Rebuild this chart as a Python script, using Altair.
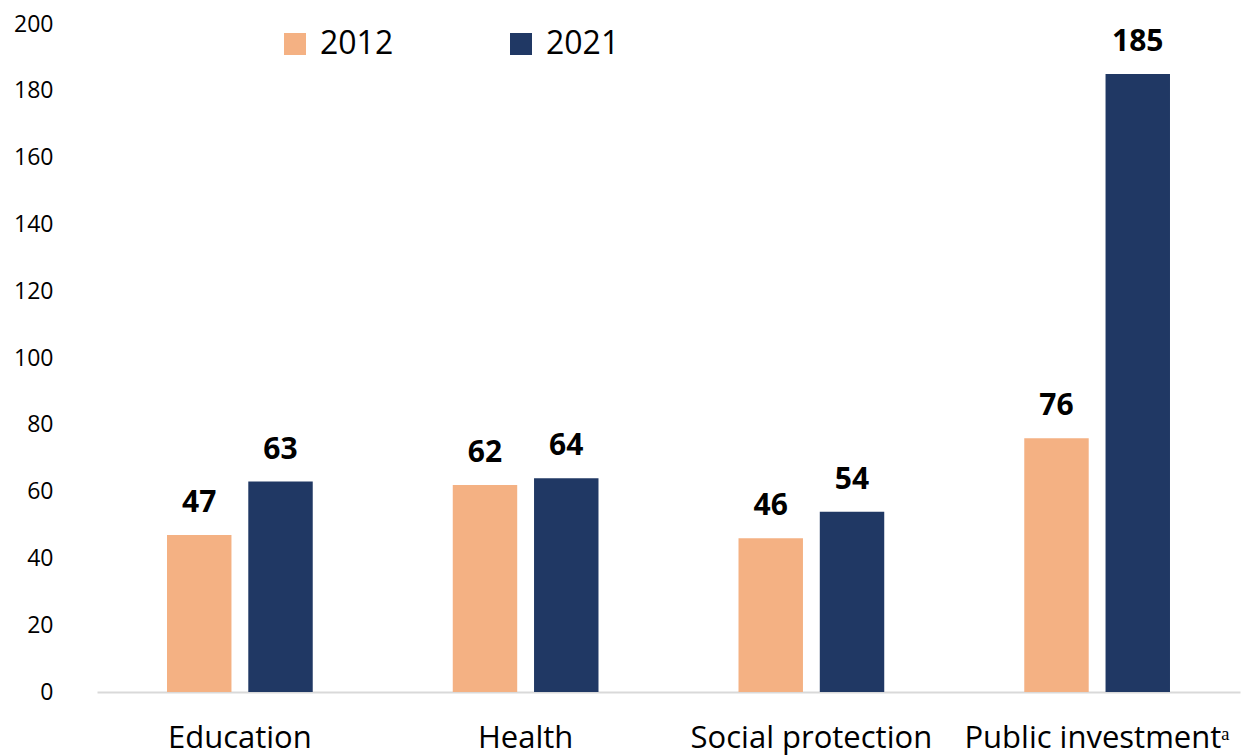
import altair as alt
import pandas as pd

categories = ["Education", "Health", "Social protection", "Public investment\u1d43"]
years = ["2012", "2021"]
values_2012 = [47, 62, 46, 76]
values_2021 = [63, 64, 54, 185]
colors = ["#F4B183", "#203864"]

rows = []
for c, a, b in zip(categories, values_2012, values_2021):
    rows.append({"category": c, "year": "2012", "value": a})
    rows.append({"category": c, "year": "2021", "value": b})
df = pd.DataFrame(rows)

FONT = "Open Sans"

x = alt.X("category:N", sort=categories, title=None,
          scale=alt.Scale(paddingInner=0.49, paddingOuter=0.245),
          axis=alt.Axis(labelAngle=0, labelFontSize=31, labelFont=FONT, labelColor="#000000",
                        labelPadding=31, labelLimit=0, ticks=False, domainColor="#D9D9D9",
                        domainWidth=2, grid=False))
xo = alt.XOffset("year:N", sort=years, scale=alt.Scale(paddingInner=0.207, paddingOuter=0))
y = alt.Y("value:Q", title=None,
          scale=alt.Scale(domain=[0, 200], nice=False),
          axis=alt.Axis(values=list(range(0, 201, 20)), labelFontSize=23, labelFont=FONT,
                        labelColor="#000000", labelPadding=44, ticks=False, domain=False,
                        grid=False))

bars = alt.Chart(df).mark_bar().encode(
    x=x, xOffset=xo, y=y,
    color=alt.Color("year:N", sort=years,
                    scale=alt.Scale(domain=years, range=colors),
                    legend=alt.Legend(title=None, orient="none", legendX=182, legendY=4,
                                      direction="horizontal", symbolType="square",
                                      symbolSize=484, symbolStrokeWidth=0,
                                      labelFontSize=32, labelFont=FONT, labelColor="#000000",
                                      labelOffset=9, columnPadding=111)),
)

labels = alt.Chart(df).mark_text(
    baseline="alphabetic", dy=-23, fontSize=30, fontWeight="bold", font=FONT, color="#000000"
).encode(x=x, xOffset=xo, y=y, text=alt.Text("value:Q"))

chart = (bars + labels).properties(
    width=1143, height=668,
    background="white",
    autosize=alt.AutoSizeParams(type="none"),
    padding={"left": 97, "top": 24, "right": 14, "bottom": 64},
).configure_view(stroke=None)

chart.save("out.html", embed_options={"renderer": "svg", "actions": False})
